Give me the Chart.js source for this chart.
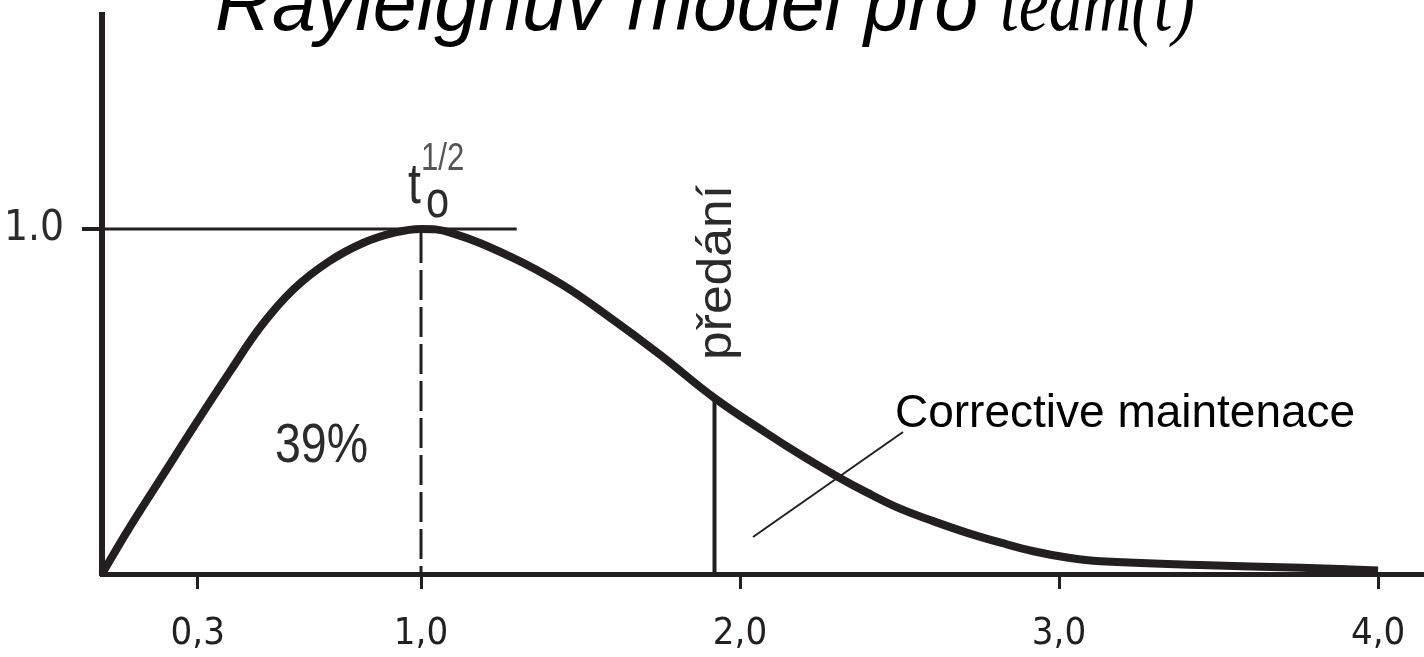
<!DOCTYPE html>
<html><head><meta charset="utf-8">
<script src="https://cdn.jsdelivr.net/npm/chart.js@4.4.1/dist/chart.umd.min.js"></script>
<style>html,body{margin:0;padding:0;background:#fff;overflow:hidden}canvas{display:block}</style>
</head><body>
<canvas id="c" width="1424" height="657"></canvas>
<script>
// ---- data ----
const timeValues   = [0.00, 0.08, 0.19, 0.29, 0.40, 0.50, 0.60, 0.71, 0.82, 0.92, 1.00, 1.09, 1.28, 1.44, 1.59, 1.75, 1.92, 2.08, 2.19, 2.30, 2.40, 2.50, 2.60, 2.71, 2.82, 2.92, 3.03, 3.13, 3.44, 3.76, 4.00];
const effortValues = [0.00, 0.125, 0.285, 0.43, 0.585, 0.72, 0.825, 0.905, 0.96, 0.99, 1.00, 0.99, 0.92, 0.84, 0.745, 0.635, 0.51, 0.41, 0.345, 0.285, 0.235, 0.19, 0.155, 0.12, 0.09, 0.066, 0.047, 0.037, 0.026, 0.018, 0.01];
const xTickValues = [0.3, 1, 2, 3, 4];
const xTickLabels = ['0,3', '1,0', '2,0', '3,0', '4,0'];
const yTickValues = [1];
const yTickLabels = ['1.0'];
const peakTime = 1.0;
const peakLineEnd = 1.3;
const handoverTime = 1.92;
const handoverValue = 0.51;
const titleText = 'Rayleighův model pro ';
const titleMath = 'team(t)';
const handoverLabel = 'předání';
const shareLabel = '39%';
const maintenanceLabel = 'Corrective maintenace';

const INK = '#231f20';

function drawScaled(ctx, text, x, y, font, color, sx, targetW) {
  ctx.save();
  ctx.font = font;
  ctx.fillStyle = color;
  ctx.textBaseline = 'alphabetic';
  ctx.textAlign = 'left';
  let s = sx;
  if (targetW) s = targetW / ctx.measureText(text).width;
  ctx.translate(x, y);
  ctx.scale(s, 1);
  ctx.fillText(text, 0, 0);
  ctx.restore();
}

const annotations = {
  id: 'annotations',
  afterDatasetsDraw(chart) {
    const { ctx, scales: { x, y } } = chart;
    ctx.save();
    ctx.strokeStyle = INK;
    ctx.lineCap = 'butt';
    // level line at 1.0
    ctx.lineWidth = 3;
    ctx.beginPath();
    ctx.moveTo(x.getPixelForValue(0), y.getPixelForValue(1));
    ctx.lineTo(x.getPixelForValue(peakLineEnd), y.getPixelForValue(1));
    ctx.stroke();
    // dashed line at the peak
    ctx.setLineDash([30, 7]);
    ctx.beginPath();
    ctx.moveTo(x.getPixelForValue(peakTime), y.getPixelForValue(1) + 4);
    ctx.lineTo(x.getPixelForValue(peakTime), y.getPixelForValue(0));
    ctx.stroke();
    ctx.setLineDash([]);
    // handover line
    ctx.lineWidth = 4;
    ctx.beginPath();
    ctx.moveTo(x.getPixelForValue(handoverTime), y.getPixelForValue(handoverValue));
    ctx.lineTo(x.getPixelForValue(handoverTime), y.getPixelForValue(0));
    ctx.stroke();
    // leader line
    ctx.lineWidth = 2;
    ctx.beginPath();
    ctx.moveTo(753, 537);
    ctx.lineTo(903, 432);
    ctx.stroke();
    ctx.restore();

    // texts
    drawScaled(ctx, 't', 408, 203, '58px "Liberation Sans"', '#2b2b2b', 0.8);
    drawScaled(ctx, 'o', 426, 217, '52px "Liberation Sans"', '#2b2b2b', 0.8);
    drawScaled(ctx, '1/2', 421, 170, '38px "Liberation Sans"', '#555', 0.82);
    drawScaled(ctx, shareLabel, 275, 462, '56px "Liberation Sans"', '#2b2b2b', 0.83);
    drawScaled(ctx, maintenanceLabel, 895, 427, '46px "Liberation Sans"', '#000', 1);

    ctx.save();
    ctx.translate(731, 360);
    ctx.rotate(-Math.PI / 2);
    ctx.font = '48px "Liberation Sans"';
    ctx.fillStyle = '#2b2b2b';
    ctx.textBaseline = 'alphabetic';
    ctx.scale(175 / ctx.measureText(handoverLabel).width, 1);
    ctx.fillText(handoverLabel, 0, 0);
    ctx.restore();

    // title (clipped at top as in the reference)
    drawScaled(ctx, titleText, 215, 30, 'italic 80px "Liberation Sans"', '#000', null, 785);
    drawScaled(ctx, titleMath, 1000, 30, 'italic 80px "Liberation Serif"', '#000', null, 195);
  }
};

new Chart(document.getElementById('c').getContext('2d'), {
  type: 'scatter',
  data: {
    datasets: [{
      data: timeValues.map((t, i) => ({ x: t, y: effortValues[i] })),
      showLine: true,
      borderColor: INK,
      borderWidth: 8,
      pointRadius: 0,
      pointHoverRadius: 0,
      tension: 0.4,
      fill: false,
      clip: false
    }]
  },
  options: {
    responsive: false,
    devicePixelRatio: 1,
    animation: false,
    events: [],
    layout: { padding: { top: 15, right: 0, left: 0, bottom: 0 } },
    plugins: { legend: { display: false }, tooltip: { enabled: false }, title: { display: false } },
    scales: {
      x: {
        type: 'linear', min: 0, max: 4.144,
        afterBuildTicks: s => { s.ticks = xTickValues.map(v => ({ value: v })); },
        afterFit: s => { s.height = 83; s.paddingLeft = 0; s.paddingRight = 0; },
        ticks: {
          callback: (v, i) => xTickLabels[i],
          font: { family: '"Liberation Sans Narrow", "DejaVu Sans Condensed", "Liberation Sans", sans-serif', size: 38 },
          color: '#231f20', padding: 22, maxRotation: 0, autoSkip: false
        },
        grid: { drawOnChartArea: false, drawTicks: true, tickLength: 15, lineWidth: 3, color: INK },
        border: { display: true, width: 5, color: INK }
      },
      y: {
        type: 'linear', min: 0, max: 1.62,
        afterBuildTicks: s => { s.ticks = yTickValues.map(v => ({ value: v })); },
        afterFit: s => { s.width = 102; s.paddingTop = 0; s.paddingBottom = 0; },
        ticks: {
          callback: (v, i) => yTickLabels[i],
          font: { family: '"Liberation Sans Narrow", "DejaVu Sans Condensed", "Liberation Sans", sans-serif', size: 42 },
          color: '#2b2b2b', padding: 18
        },
        grid: { drawOnChartArea: false, drawTicks: true, tickLength: 20, lineWidth: 4, color: INK },
        border: { display: true, width: 6, color: INK }
      }
    }
  },
  plugins: [annotations]
});
</script>
</body></html>
